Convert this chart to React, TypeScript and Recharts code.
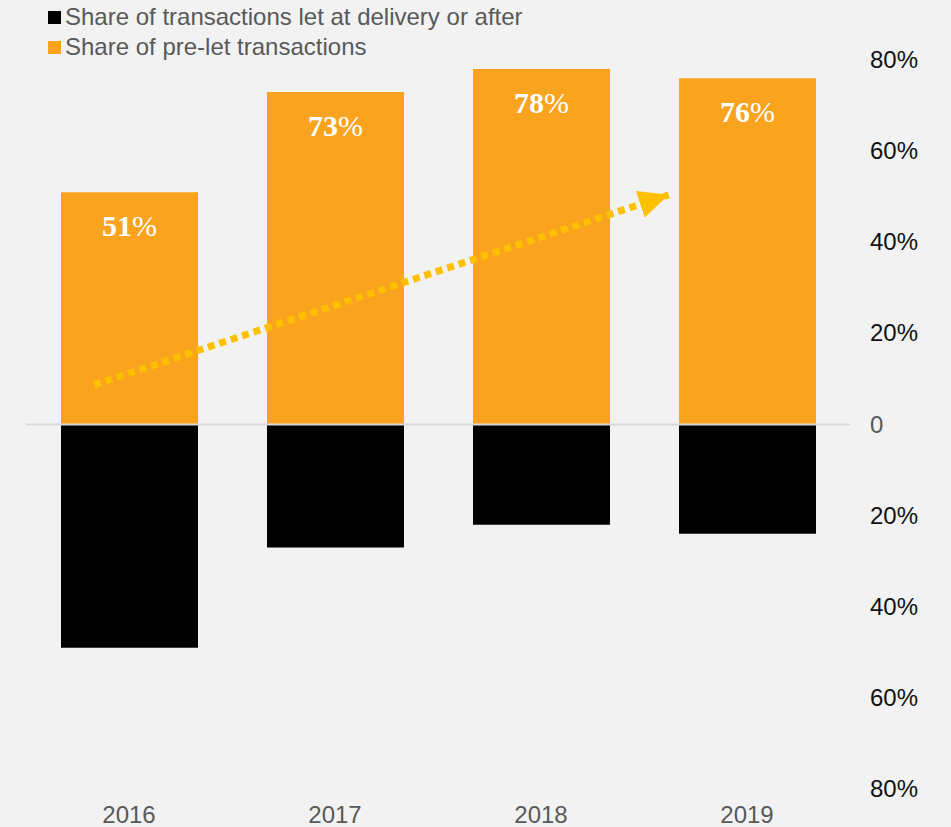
import React from 'react'
import {
  BarChart,
  Bar,
  XAxis,
  YAxis,
  ReferenceLine,
  LabelList,
} from 'recharts'

const years = ['2016', '2017', '2018', '2019']
const preLet = [51, 73, 78, 76]
const atDelivery = [49, 27, 22, 24]
const yTicks = [-80, -60, -40, -20, 0, 20, 40, 60, 80]

// trend arrow, in chart units (x = year index, y = %)
const trendArrow = [
  { x: -0.17, y: 8.7 },
  { x: 2.62, y: 50.4 },
]

const ORANGE = '#F9A31F'
const ARROW = '#FFC000'
const FONT = 'Arial, "Liberation Sans", sans-serif'

const data = years.map((year, i) => ({
  idx: i,
  year,
  preLet: preLet[i],
  atDelivery: -atDelivery[i],
}))

function YTick(props: any) {
  const { x, y, payload } = props
  const v = payload.value as number
  return (
    <text
      x={x}
      y={y}
      dy={8}
      textAnchor="start"
      fontFamily={FONT}
      fontSize={24}
      fill={v === 0 ? '#595959' : '#111111'}
    >
      {v === 0 ? '0' : `${Math.abs(v)}%`}
    </text>
  )
}

function ValueLabel(props: any) {
  const { x, y, width, value } = props
  return (
    <text
      x={x + width / 2}
      y={y + 44}
      textAnchor="middle"
      fill="#ffffff"
      fontFamily='"Liberation Serif", "Times New Roman", serif'
      fontSize={30}
    >
      <tspan fontWeight="bold">{value}</tspan>
      <tspan fontWeight="normal">%</tspan>
    </text>
  )
}

function ArrowShape(props: any) {
  const { x1, y1, x2, y2 } = props
  return (
    <g>
      <defs>
        <marker
          id="trendHead"
          markerUnits="userSpaceOnUse"
          markerWidth={32}
          markerHeight={28}
          refX={30}
          refY={14}
          orient="auto"
        >
          <path d="M0,0 L30,14 L0,28 Z" fill={ARROW} />
        </marker>
      </defs>
      <line
        x1={x1}
        y1={y1}
        x2={x2}
        y2={y2}
        stroke={ARROW}
        strokeWidth={7}
        strokeDasharray="7 5"
        markerEnd="url(#trendHead)"
      />
    </g>
  )
}

function LegendBox() {
  const items = [
    { label: 'Share of transactions let at delivery or after', color: '#000000' },
    { label: 'Share of pre-let transactions', color: ORANGE },
  ]
  return (
    <div
      style={{
        position: 'absolute',
        left: 48,
        top: 2,
        fontFamily: FONT,
        fontSize: 24,
        color: '#595959',
        lineHeight: '30px',
      }}
    >
      {items.map((it) => (
        <div key={it.label} style={{ display: 'flex', alignItems: 'center', height: 30 }}>
          <span
            style={{
              display: 'inline-block',
              width: 13,
              height: 13,
              background: it.color,
              marginRight: 4,
            }}
          />
          <span>{it.label}</span>
        </div>
      ))}
    </div>
  )
}

export default function App() {
  return (
    <div
      style={{
        position: 'absolute',
        left: 0,
        top: 0,
        width: 951,
        height: 827,
        background: '#F2F2F2',
        overflow: 'hidden',
      }}
    >
      <BarChart
        width={951}
        height={827}
        data={data}
        stackOffset="sign"
        margin={{ top: 60, right: 0, bottom: 0, left: 26 }}
      >
        <XAxis
          dataKey="idx"
          type="number"
          domain={[-0.5, 3.5]}
          ticks={[0, 1, 2, 3]}
          tickFormatter={(v: number) => years[v] ?? ''}
          axisLine={false}
          tickLine={false}
          tickMargin={11}
          height={38}
          interval={0}
          tick={{ fontFamily: FONT, fontSize: 24, fill: '#595959' }}
        />
        <YAxis
          orientation="right"
          domain={[-80, 80]}
          ticks={yTicks}
          axisLine={false}
          tickLine={false}
          tickMargin={14}
          width={101}
          interval={0}
          tick={<YTick />}
        />
        <Bar dataKey="atDelivery" stackId="a" fill="#000000" barSize={137} isAnimationActive={false} />
        <Bar dataKey="preLet" stackId="a" fill={ORANGE} barSize={137} isAnimationActive={false}>
          <LabelList dataKey="preLet" content={<ValueLabel />} />
        </Bar>
        <ReferenceLine y={0} stroke="#D9D9D9" strokeWidth={2} />
        <ReferenceLine segment={trendArrow} shape={<ArrowShape />} ifOverflow="visible" />
      </BarChart>
      <LegendBox />
    </div>
  )
}
